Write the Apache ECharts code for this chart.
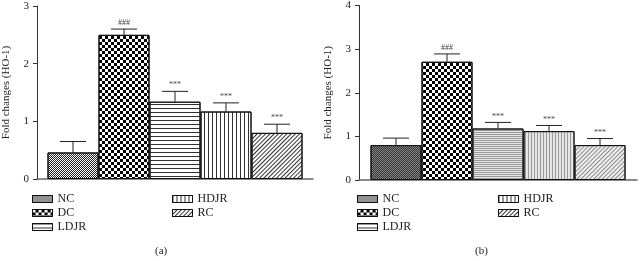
<!DOCTYPE html>
<html>
<head>
<meta charset="utf-8">
<script src="https://cdn.jsdelivr.net/npm/echarts@6/dist/echarts.min.js"></script>
<style>
  html, body { margin: 0; padding: 0; background: #fff; }
  #main { width: 640px; height: 261px; }
</style>
</head>
<body>
<div id="main"></div>
<script>
var groups = ['NC', 'DC', 'LDJR', 'HDJR', 'RC'];
var marks = ['', '###', '***', '***', '***'];

// panel (a)
var meanA = [0.46, 2.5, 1.34, 1.17, 0.8];
var errTopA = [0.65, 2.6, 1.52, 1.32, 0.95];
// panel (b)
var meanB = [0.8, 2.71, 1.18, 1.12, 0.8];
var errTopB = [0.96, 2.89, 1.32, 1.25, 0.95];

var serif = 'Liberation Serif';
var barW = 51;

// fill patterns for each group, per panel
var stylesA = [
    { color: '#fff', decal: { symbol: 'rect', symbolSize: 1, color: '#222', dashArrayX: [[1, 1], [0, 1, 1, 0]], dashArrayY: [1, 0] } },
    { color: '#fff', decal: { symbol: 'rect', symbolSize: 1, color: '#000', dashArrayX: [[3, 3], [0, 3, 3, 0]], dashArrayY: [3, 0] } },
    { color: '#fff', decal: { symbol: 'rect', symbolSize: 1, color: '#333', dashArrayX: [1, 0], dashArrayY: [1, 3] } },
    { color: '#fff', decal: { symbol: 'rect', symbolSize: 1, color: '#333', dashArrayX: [1, 3], dashArrayY: [1, 0] } },
    { color: '#fff', decal: { symbol: 'rect', symbolSize: 1, color: '#333', dashArrayX: [1, 0], dashArrayY: [1, 1.5], rotation: -Math.PI / 4 } }
];
var stylesB = [
    { color: '#888', decal: { symbol: 'rect', symbolSize: 1, color: '#333', dashArrayX: [[1, 1], [0, 1, 1, 0]], dashArrayY: [1, 0] } },
    { color: '#fff', decal: { symbol: 'rect', symbolSize: 1, color: '#000', dashArrayX: [[3, 3], [0, 3, 3, 0]], dashArrayY: [3, 0] } },
    { color: '#e6e6e6', decal: { symbol: 'rect', symbolSize: 1, color: '#999', dashArrayX: [1, 0], dashArrayY: [1, 1] } },
    { color: '#e6e6e6', decal: { symbol: 'rect', symbolSize: 1, color: '#999', dashArrayX: [1, 2], dashArrayY: [1, 0] } },
    { color: '#f0f0f0', decal: { symbol: 'rect', symbolSize: 1, color: '#888', dashArrayX: [1, 0], dashArrayY: [1, 1.5], rotation: -Math.PI / 4 } }
];

function barSeries(means, styles, idx) {
    return groups.map(function (g, i) {
        return {
            name: g,
            type: 'bar',
            xAxisIndex: idx,
            yAxisIndex: idx,
            barWidth: barW,
            barGap: '0%',
            itemStyle: {
                color: styles[i].color,
                decal: styles[i].decal,
                borderColor: '#111',
                borderWidth: 1
            },
            emphasis: { disabled: true },
            data: [means[i]]
        };
    });
}

function errSeries(means, tops, idx) {
    var d = groups.map(function (g, i) {
        return [0, i, means[i], tops[i]];
    });
    return {
        type: 'custom',
        xAxisIndex: idx,
        yAxisIndex: idx,
        silent: true,
        z: 5,
        data: d,
        renderItem: function (params, api) {
            var i = api.value(1);
            var lo = api.coord([0, api.value(2)]);
            var hi = api.coord([0, api.value(3)]);
            var x = lo[0] + (i - 2) * barW;
            var cap = 13;
            var ls = { stroke: '#222', lineWidth: 1 };
            var children = [
                { type: 'line', shape: { x1: x, y1: lo[1], x2: x, y2: hi[1] }, style: ls },
                { type: 'line', shape: { x1: x - cap, y1: hi[1], x2: x + cap, y2: hi[1] }, style: ls }
            ];
            if (marks[i]) {
                children.push({
                    type: 'text',
                    style: {
                        x: x, y: hi[1] - 2, text: marks[i],
                        textAlign: 'center', textVerticalAlign: 'bottom',
                        fontSize: 8, fontFamily: serif, fill: '#444'
                    }
                });
            }
            return { type: 'group', children: children };
        }
    };
}

function yAxis(idx, max) {
    return {
        gridIndex: idx,
        type: 'value',
        min: 0,
        max: max,
        interval: 1,
        name: 'Fold changes (HO-1)',
        nameLocation: 'middle',
        nameGap: 25,
        nameTextStyle: { fontFamily: serif, fontSize: 11, color: '#222' },
        axisLine: { show: true, lineStyle: { color: '#333' } },
        axisTick: { show: true, length: 4, lineStyle: { color: '#333' } },
        axisLabel: { fontFamily: serif, fontSize: 11, color: '#222', margin: 8 },
        splitLine: { show: false }
    };
}

function xAxis(idx) {
    return {
        gridIndex: idx,
        type: 'category',
        data: [''],
        axisLine: { lineStyle: { color: '#666', width: 1.5 } },
        axisTick: { show: false },
        axisLabel: { show: false }
    };
}

function legend(names, left, top) {
    return {
        data: names,
        orient: 'vertical',
        left: left,
        top: top,
        padding: 0,
        icon: 'rect',
        itemWidth: 20,
        itemHeight: 7,
        itemGap: 2,
        itemStyle: { borderColor: '#111', borderWidth: 1 },
        textStyle: { fontFamily: serif, fontSize: 12, color: '#222', lineHeight: 12 },
        selectedMode: false
    };
}

var chart = echarts.init(document.getElementById('main'));
chart.setOption({
    animation: false,
    backgroundColor: '#fff',
    title: [
        { text: '(a)', left: 155, top: 246, padding: 0, textStyle: { fontFamily: serif, fontSize: 11, fontWeight: 'normal', color: '#222' } },
        { text: '(b)', left: 475, top: 246, padding: 0, textStyle: { fontFamily: serif, fontSize: 11, fontWeight: 'normal', color: '#222' } }
    ],
    grid: [
        { left: 33, width: 280, top: 6, height: 173 },
        { left: 359, width: 278, top: 5, height: 175 }
    ],
    xAxis: [xAxis(0), xAxis(1)],
    yAxis: [yAxis(0, 3), yAxis(1, 4)],
    legend: [
        legend(['NC', 'DC', 'LDJR'], 32, 193),
        legend(['HDJR', 'RC'], 172, 193),
        legend(['NC', 'DC', 'LDJR'], 357, 193),
        legend(['HDJR', 'RC'], 498, 193)
    ],
    series: barSeries(meanA, stylesA, 0)
        .concat([errSeries(meanA, errTopA, 0)])
        .concat(barSeries(meanB, stylesB, 1))
        .concat([errSeries(meanB, errTopB, 1)])
});
</script>
</body>
</html>
